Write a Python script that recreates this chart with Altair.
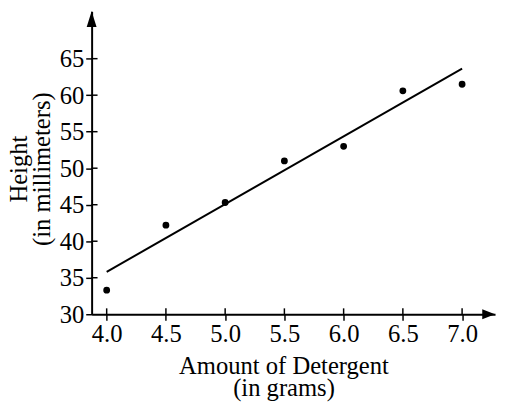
import altair as alt
import pandas as pd

# Data
detergent = [4.0, 4.5, 5.0, 5.5, 6.0, 6.5, 7.0]
height_mm = [33.3, 42.2, 45.3, 51.0, 53.0, 60.6, 61.5]
fit_x = [4.0, 7.0]
fit_y = [35.8, 63.65]
x_ticks = [4.0, 4.5, 5.0, 5.5, 6.0, 6.5, 7.0]
y_ticks = [30, 35, 40, 45, 50, 55, 60, 65]
x_domain = [3.873, 7.278]
y_domain = [30, 71.5]

FONT = "Liberation Serif"

pts = pd.DataFrame({"x": detergent, "y": height_mm})
fit = pd.DataFrame({"x": fit_x, "y": fit_y})
xt = pd.DataFrame({"x": x_ticks})
yt = pd.DataFrame({"y": y_ticks[1:]})
up_arrow = pd.DataFrame({"x": [x_domain[0]], "y": [y_domain[1]]})
right_arrow = pd.DataFrame({"x": [x_domain[1]], "y": [y_domain[0]]})

x_axis = alt.Axis(
    values=x_ticks, format=".1f", title=["Amount of Detergent", "(in grams)"],
    titleX=195, titleY=60, titleBaseline="alphabetic", titleLineHeight=23,
    titleAlign="center", labelPadding=2,
)
y_axis = alt.Axis(
    values=y_ticks, format="d", title=["Height", "(in millimeters)"],
    titleAngle=270, titleX=-66, titleY=160, titleBaseline="alphabetic",
    titleAlign="center", titleLineHeight=23, labelPadding=2,
)
xs = alt.Scale(domain=x_domain, nice=False, zero=False)
ys = alt.Scale(domain=y_domain, nice=False, zero=False)
X = alt.X("x:Q", scale=xs, axis=x_axis)
Y = alt.Y("y:Q", scale=ys, axis=y_axis)

points = alt.Chart(pts).mark_circle(size=48, color="black", opacity=1).encode(x=X, y=Y)
line = alt.Chart(fit).mark_line(color="black", strokeWidth=2).encode(x=X, y=Y)
xin = alt.Chart(xt).mark_rule(color="black", strokeWidth=1.5).encode(
    x=X, y=alt.value(302), y2=alt.value(308))
yin = alt.Chart(yt).mark_rule(color="black", strokeWidth=1.5).encode(
    y=Y, x=alt.value(0), x2=alt.value(6))
arr_up = alt.Chart(up_arrow).mark_point(
    shape="M0,0L1,3.2L-1,3.2Z", size=100, filled=True, color="black", opacity=1
).encode(x=X, y=Y)
arr_right = alt.Chart(right_arrow).mark_point(
    shape="M0,0L-2.6,-1L-2.6,1Z", size=100, filled=True, color="black", opacity=1
).encode(x=X, y=Y)

chart = alt.layer(line, points, xin, yin, arr_up, arr_right).properties(
    width=410, height=308,
    autosize=alt.AutoSizeParams(type="none"),
    padding={"left": 85, "top": 0, "right": 2, "bottom": 90},
).configure_view(stroke=None).configure_axis(
    grid=False, domainColor="black", domainWidth=2, tickColor="black",
    tickWidth=1.5, tickSize=6, labelFont=FONT, labelFontSize=25,
    labelColor="black", titleFont=FONT, titleFontSize=25,
    titleFontWeight="normal", titleColor="black",
)

chart.save("out.html", embed_options={"renderer": "svg", "actions": False})
